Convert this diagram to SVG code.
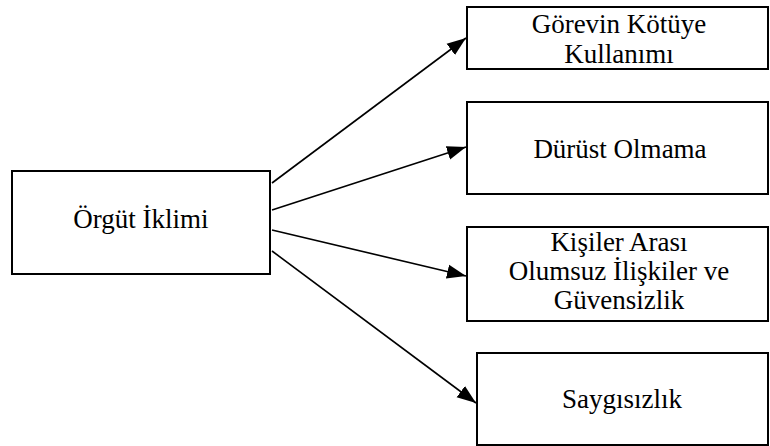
<svg xmlns="http://www.w3.org/2000/svg" width="770" height="446" viewBox="0 0 770 446">
<defs>
<style>
.box{fill:#fff;stroke:#000;stroke-width:2}
.t{font-family:'Liberation Serif','Times New Roman',Times,serif;font-size:27px;fill:#000;text-anchor:middle}
.c{stroke:#000;stroke-width:1.6;fill:none;marker-end:url(#ah)}
</style>
<marker id="ah" markerUnits="userSpaceOnUse" markerWidth="20" markerHeight="16" refX="19" refY="7" orient="auto" viewBox="0 0 20 14">
<path d="M0,0 L19,7 L0,14 z" fill="#000"/>
</marker>
</defs>
<rect width="770" height="446" fill="#fff"/>
<g id="connectors">
<line class="c" x1="272" y1="183" x2="466" y2="38"/>
<line class="c" x1="272" y1="210" x2="466" y2="147"/>
<line class="c" x1="272" y1="230" x2="466" y2="276"/>
<line class="c" x1="272" y1="251" x2="476" y2="403"/>
</g>
<g id="n0">
<rect class="box" x="12" y="171" width="258" height="103"/>
<text class="t" x="141" y="228">Örgüt İklimi</text>
</g>
<g id="n1">
<rect class="box" x="467" y="7" width="301" height="62"/>
<text class="t" x="619" y="33">Görevin Kötüye</text>
<text class="t" x="619" y="63">Kullanımı</text>
</g>
<g id="n2">
<rect class="box" x="467" y="102" width="301" height="92"/>
<text class="t" x="620" y="158">Dürüst Olmama</text>
</g>
<g id="n3">
<rect class="box" x="467" y="227" width="301" height="94"/>
<text class="t" x="619" y="251">Kişiler Arası</text>
<text class="t" x="619" y="280">Olumsuz İlişkiler ve</text>
<text class="t" x="619" y="309">Güvensizlik</text>
</g>
<g id="n4">
<rect class="box" x="477" y="353" width="291" height="92"/>
<text class="t" x="622" y="408">Saygısızlık</text>
</g>
</svg>
